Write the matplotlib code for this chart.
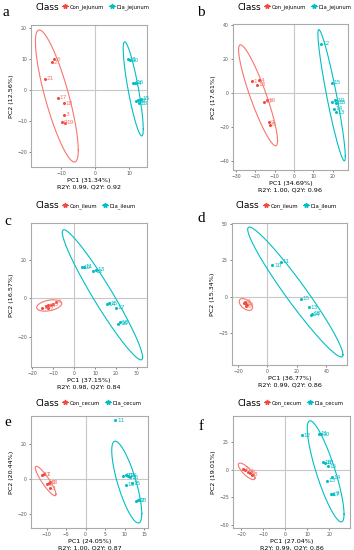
import numpy as np
import matplotlib.pyplot as plt
from matplotlib.lines import Line2D

# --- colori ggplot ---
RED = '#F8766D'
RED_PT = '#F04A42'
CYAN = '#00BFC4'

# --- dati: (PC1, PC2, etichetta) ---
a_con = [(-12.6, 9.0, '2'), (-11.9, 9.9, '6'), (-14.8, 3.6, '21'), (-10.8, -2.4, '17'),
         (-9.2, -4.2, '18'), (-9.1, -8.0, '3'), (-9.6, -10.3, '9'), (-8.8, -10.6, '19')]
a_dia = [(9.6, 10.0, '11'), (10.3, 9.7, '10'), (11.1, 2.2, '14'), (11.8, 2.4, '16'),
         (12.1, -3.6, '13'), (12.7, -3.2, '17'), (13.4, -2.8, '15'), (13.0, -4.2, '18')]

b_con = [(-21.8, 7.1, '1'), (-18.1, 7.7, '4'), (-19.3, 5.0, '13'), (-15.7, -5.1, '17'),
         (-14.0, -4.1, '16'), (-12.3, -18.6, '8'), (-13.0, -17.0, '9')]
b_dia = [(14.1, 29.0, '12'), (19.7, 6.1, '15'), (21.4, -4.1, '10'), (19.7, -5.2, '11'),
         (22.0, -5.5, '18'), (20.5, -9.1, '14'), (21.6, -11.1, '13')]

c_con = [(-15.4, -4.8, '1'), (-13.2, -4.1, '2'), (-12.3, -3.5, '3'), (-11.2, -3.6, '4'),
         (-10.0, -3.0, '5'), (-8.4, -1.7, '6'), (-12.5, -5.2, '7')]
c_dia = [(3.7, 16.3, '10'), (4.6, 16.5, '11'), (9.2, 14.2, '12'), (10.5, 14.8, '13'),
         (15.6, -3.1, '14'), (16.5, -2.5, '15'), (20.0, -4.8, '17'), (21.1, -13.1, '16'),
         (22.0, -12.3, '18')]

d_con = [(-15.7, -4.4, '1'), (-14.8, -5.0, '2'), (-13.5, -5.5, '5'), (-14.2, -6.5, '6'),
         (-15.0, -3.5, '3')]
d_dia = [(3.4, 21.5, '10'), (9.0, 23.8, '11'), (22.5, -1.4, '15'), (28.2, -7.2, '13'),
         (29.3, -12.5, '14'), (30.0, -11.8, '18')]

e_con = [(-11.2, 2.5, '17'), (-10.6, 2.8, '1'), (-9.5, -2.3, '18'), (-9.2, -2.0, '6'),
         (-9.9, -3.0, '2'), (-9.2, -5.5, '3')]
e_dia = [(7.6, 34.0, '11'), (9.7, 1.9, '10'), (10.3, 2.2, '12'), (10.8, 1.9, '14'),
         (11.3, 1.0, '16'), (10.4, -3.3, '13'), (11.9, -2.4, '15'), (12.9, -12.6, '17'),
         (13.4, -12.2, '18')]

f_con = [(-19.0, 0.9, '1'), (-18.0, -0.5, '2'), (-16.8, -2.0, '4'), (-15.9, -3.0, '6'),
         (-15.2, -4.5, '8')]
f_dia = [(7.6, 31.0, '12'), (15.5, 32.5, '11'), (16.2, 31.8, '10'), (17.1, 6.6, '16'),
         (18.0, 6.4, '18'), (19.4, 3.0, '15'), (21.2, -7.0, '14'), (19.0, -9.9, '13'),
         (20.9, -22.0, '17'), (22.0, -21.6, '9')]

# --- ellissi di Hotelling: (cx, cy, sx, sy, rho) ---
ell_con = [(-11.2, -1.9, 6.3, 21.3, -0.82), (-18.6, -1.2, 10.1, 29.6, -0.90),
           (-11.85, -3.65, 5.95, 2.95, 0.35), (-14.6, -5.45, 4.5, 4.05, -0.5),
           (-10.25, -1.15, 2.65, 8.55, -0.90), (-17.4, -1.5, 3.8, 7.5, -0.80)]
ell_dia = [(11.25, 0.4, 2.95, 15.2, -0.85), (19.5, -1.2, 7.1, 38.5, -0.93),
           (13.55, 1.9, 19.15, 33.8, -0.96), (18.95, 3.1, 32.3, 44.6, -0.965),
           (10.55, -1.8, 3.85, 23.7, -0.77), (18.45, -1.5, 8.35, 45.7, -0.845)]

tissues = ['jejunum', 'jejunum', 'ileum', 'ileum', 'cecum', 'cecum']
pc1_var = [31.34, 34.69, 37.15, 36.77, 24.05, 27.04]
pc2_var = [12.56, 17.61, 16.57, 15.34, 20.44, 19.01]
r2y = [0.99, 1.00, 0.98, 0.99, 1.00, 0.99]
q2y = [0.92, 0.96, 0.84, 0.86, 0.87, 0.86]
letters = ['a', 'b', 'c', 'd', 'e', 'f']

con_sets = [a_con, b_con, c_con, d_con, e_con, f_con]
dia_sets = [a_dia, b_dia, c_dia, d_dia, e_dia, f_dia]

# --- layout (pixel) ---
W, H = 354, 550
boxes = [(31, 25, 147, 167), (233, 24, 348, 170),
         (31, 223, 147, 367), (232, 223, 347, 365),
         (31, 416, 148, 528), (233, 416, 350, 528)]
xlims = [(-18.8, 15.3), (-31.6, 28), (-20.5, 34.8), (-24, 54), (-14, 16), (-23.6, 29.5)]
ylims = [(-24.8, 21), (-45, 40.6), (-35.6, 39.2), (-47, 50.5), (-28.4, 36.5), (-52.7, 48.5)]
xticks = [[-10, 0, 10], [-30, -20, -10, 0, 10, 20], [-20, -10, 0, 10, 20, 30],
          [-20, 0, 20, 40], [-10, -5, 0, 5, 10, 15], [-20, -10, 0, 10, 20]]
yticks = [[-20, -10, 0, 10, 20], [-40, -20, 0, 20, 40], [-20, 0, 20],
          [-25, 0, 25, 50], [-20, 0, 20], [-50, -25, 0, 25]]
legend_y = [7, 7, 206, 206, 403, 403]
letter_pos = [(6, 13), (201, 13), (8, 222), (201, 219), (8, 423), (201, 427)]


def ellipse(cx, cy, sx, sy, rho):
    t = np.linspace(0, 2 * np.pi, 200)
    x = cx + sx * np.cos(t)
    y = cy + sy * (rho * np.cos(t) - np.sqrt(1 - rho ** 2) * np.sin(t))
    return x, y


fig = plt.figure(figsize=(W / 100, H / 100), dpi=100)

for i in range(6):
    x0, y0, x1, y1 = boxes[i]
    ax = fig.add_axes([x0 / W, 1 - y1 / H, (x1 - x0) / W, (y1 - y0) / H])
    ax.set_xlim(*xlims[i])
    ax.set_ylim(*ylims[i])
    ax.axhline(0, color='#c8c8c8', lw=0.8, zorder=0)
    ax.axvline(0, color='#c8c8c8', lw=0.8, zorder=0)

    for pts, ell, col, pcol in [(con_sets[i], ell_con[i], RED, RED_PT),
                                (dia_sets[i], ell_dia[i], CYAN, CYAN)]:
        ex, ey = ellipse(*ell)
        ax.plot(ex, ey, color=col, lw=0.8)
        px = [p[0] for p in pts]
        py = [p[1] for p in pts]
        ax.plot(px, py, ls='none', marker='o', ms=1.2, color=pcol)
        for p in pts:
            ax.annotate(p[2], (p[0], p[1]), xytext=(1.2, 0), textcoords='offset points',
                        fontsize=4.2, color=col, ha='left', va='center')

    ax.set_xticks(xticks[i])
    ax.set_yticks(yticks[i])
    ax.tick_params(labelsize=3.3, length=1.5, width=0.5, pad=1.5,
                   colors='#555555', labelcolor='#555555')
    for s in ax.spines.values():
        s.set_color('#aaaaaa')
        s.set_linewidth(0.8)
    ax.set_xlabel(f'PC1 ({pc1_var[i]:.2f}%)\nR2Y: {r2y[i]:.2f}, Q2Y: {q2y[i]:.2f}',
                  fontsize=4.6, labelpad=1.5, linespacing=1.3)
    ax.set_ylabel(f'PC2 ({pc2_var[i]:.2f}%)', fontsize=4.6, labelpad=2)

    # legenda in stile ggplot
    ly = 1 - legend_y[i] / H
    lx = (x0 + 4) / W
    fig.text(lx, ly, 'Class', fontsize=6.5, va='center', ha='left')
    handles = [Line2D([], [], color=RED_PT, marker='*', ms=3.5, lw=0.8),
               Line2D([], [], color=CYAN, marker='*', ms=3.5, lw=0.8)]
    fig.legend(handles, [f'Con_{tissues[i]}', f'Dia_{tissues[i]}'], ncol=2,
               loc='center left', bbox_to_anchor=((x0 + 31) / W, ly), frameon=False,
               fontsize=3.8, handlelength=1.2, handletextpad=0.3, columnspacing=0.8,
               borderpad=0, borderaxespad=0)

    lx, lyy = letter_pos[i]
    fig.text(lx / W, 1 - lyy / H, letters[i], fontsize=11, family='Liberation Serif',
             ha='center', va='center')

fig.savefig('out.png', dpi=100)
